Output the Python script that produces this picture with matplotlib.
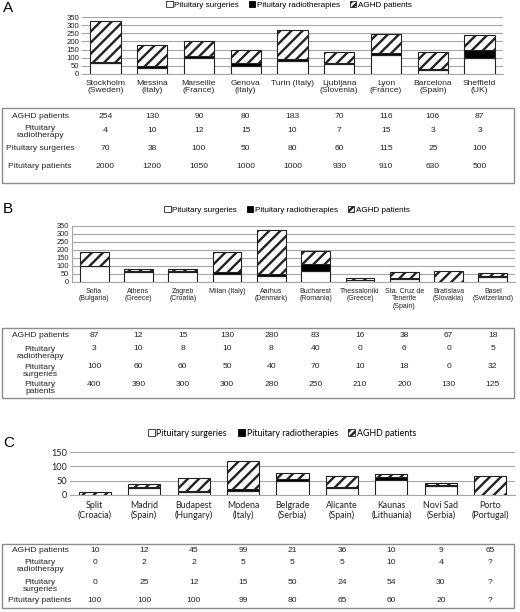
import numpy as np
import matplotlib
matplotlib.use('Agg')
import matplotlib.pyplot as plt
from matplotlib.patches import Patch, Rectangle
from matplotlib import transforms

plt.rcParams['font.family'] = ['Liberation Sans', 'DejaVu Sans']
plt.rcParams['hatch.color'] = 'black'
plt.rcParams['hatch.linewidth'] = 1.7

# ---- panel A ----
cities_a = ['Stockholm\n(Sweden)', 'Messina\n(Italy)', 'Marseille\n(France)', 'Genova\n(Italy)',
            'Turin (Italy)', 'Ljubljana\n(Slovenia)', 'Lyon\n(France)', 'Barcelona\n(Spain)',
            'Sheffield\n(UK)']
aghd_a = [254, 130, 90, 80, 183, 70, 116, 106, 87]
radio_a = [4, 10, 12, 15, 10, 7, 15, 3, 3]
surg_a = [70, 38, 100, 50, 80, 60, 115, 25, 100]
pit_a = [2000, 1200, 1050, 1000, 1000, 930, 910, 630, 500]
# bar for Sheffield shows ~50 radiotherapies although table says 3
radio_bar_a = [4, 10, 12, 15, 10, 7, 15, 3, 50]

# ---- panel B ----
cities_b = ['Sofia\n(Bulgaria)', 'Athens\n(Greece)', 'Zagreb\n(Croatia)', 'Milan (Italy)',
            'Aarhus\n(Denmark)', 'Bucharest\n(Romania)', 'Thessaloniki\n(Greece)',
            'Sta. Cruz de\nTenerife\n(Spain)', 'Bratislava\n(Slovakia)', 'Basel\n(Switzerland)']
aghd_b = [87, 12, 15, 130, 280, 83, 16, 38, 67, 18]
radio_b = [3, 10, 8, 10, 8, 40, 0, 6, 0, 5]
surg_b = [100, 60, 60, 50, 40, 70, 10, 18, 0, 32]
pit_b = [400, 390, 300, 300, 280, 250, 210, 200, 130, 125]

# ---- panel C ----
cities_c = ['Split\n(Croacia)', 'Madrid\n(Spain)', 'Budapest\n(Hungary)', 'Modena\n(Italy)',
            'Belgrade\n(Serbia)', 'Alicante\n(Spain)', 'Kaunas\n(Lithuania)', 'Novi Sad\n(Serbia)',
            'Porto\n(Portugal)']
aghd_c = [10, 12, 45, 99, 21, 36, 10, 9, 65]
radio_c = [0, 2, 2, 5, 5, 5, 10, 4, np.nan]
surg_c = [0, 25, 12, 15, 50, 24, 54, 30, np.nan]
pit_c = [100, 100, 100, 99, 80, 65, 60, 20, np.nan]

legend_labels = ['Pituitary surgeries', 'Pituitary radiotherapies', 'AGHD patients']

W, H = 520, 612
fig = plt.figure(figsize=(W / 100, H / 100), dpi=100)


def fx(px):
    return px / W


def fy(py):
    return 1 - py / H


def bars(rect, cats, surg, radio, aghd, ymax, step, tick_fs, cat_fs, family, left_spine, hatch):
    x0, y0, x1, y1 = rect
    ax = fig.add_axes([fx(x0), fy(y1), fx(x1 - x0), (y1 - y0) / H])
    x = np.arange(len(cats))
    s = np.nan_to_num(np.array(surg, float))
    r = np.nan_to_num(np.array(radio, float))
    a = np.nan_to_num(np.array(aghd, float))
    kw = dict(width=0.65, edgecolor='#222222', linewidth=0.8, zorder=3)
    ax.bar(x, s, color='white', **kw)
    ax.bar(x, r, bottom=s, color='black', **kw)
    ax.bar(x, a, bottom=s + r, color='white', hatch=hatch, **kw)
    ax.set_xlim(-0.5, len(cats) - 0.5)
    ax.set_ylim(0, ymax)
    ax.set_yticks(np.arange(0, ymax + 1, step))
    ax.yaxis.grid(True, color='#a6a6a6', lw=0.8, zorder=0)
    ax.set_xticks(x)
    ax.set_xticklabels(cats, fontsize=cat_fs, family=family, linespacing=1.15)
    for lab in ax.get_yticklabels():
        lab.set_family(family)
    ax.tick_params(axis='both', length=0, labelsize=tick_fs, colors='#222222')
    ax.tick_params(axis='x', labelsize=cat_fs, pad=4)
    ax.tick_params(axis='y', pad=2)
    for sp in ['top', 'right', 'left']:
        ax.spines[sp].set_visible(False)
    ax.spines['bottom'].set_color('#a6a6a6')
    if left_spine:
        ax.spines['left'].set_visible(True)
        ax.spines['left'].set_color('#a6a6a6')
    return ax


def legend(cx, cy, fs, family):
    handles = [Patch(facecolor='white', edgecolor='#222222', lw=0.6),
               Patch(facecolor='black', edgecolor='black', lw=0.6),
               Patch(facecolor='white', edgecolor='#222222', lw=0.6, hatch='/////')]
    fig.legend(handles, legend_labels, loc='center', bbox_to_anchor=(fx(cx), fy(cy)),
               ncol=3, frameon=False, handlelength=0.8, handleheight=0.8,
               handletextpad=0.2, columnspacing=1.2, borderaxespad=0,
               prop={'size': fs, 'family': family})


def table(ax, box, rows, labels, ylab, yval, fs=6.1):
    x0, y0, x1, y1 = box
    fig.patches.append(Rectangle((fx(x0), fy(y1)), fx(x1 - x0), (y1 - y0) / H,
                                 transform=fig.transFigure, fill=False,
                                 edgecolor='#8c8c8c', lw=1.0))
    tr = transforms.blended_transform_factory(ax.transData, fig.transFigure)
    for vals, lab, yl, yv in zip(rows, labels, ylab, yval):
        fig.text(fx(40), fy(yl), lab, ha='center', va='center', fontsize=fs,
                 linespacing=1.1, color='#222222')
        for i, v in enumerate(vals):
            txt = '?' if np.isnan(v) else str(int(v))
            ax.text(i, fy(yv), txt, transform=tr, ha='center', va='center',
                    fontsize=fs, color='#222222')


# Panel A
axa = bars((82, 17, 503, 74), cities_a, surg_a, radio_bar_a, aghd_a, 350, 50,
           5.6, 6.1, 'Liberation Sans', False, '///')
legend(289, 5, 5.9, 'Liberation Sans')
fig.text(fx(3), fy(8), 'A', fontsize=11, va='center', ha='left')
table(axa, (2, 108, 514, 183), [aghd_a, radio_a, surg_a, pit_a],
      ['AGHD patients', 'Pituitary\nradiotherapy', 'Pituitary surgeries', 'Pituitary patients'],
      [116, 132, 149, 167], [116, 130, 149, 167])

# Panel B
axb = bars((72, 226, 515, 282), cities_b, surg_b, radio_b, aghd_b, 350, 50,
           5.4, 5.0, 'Liberation Sans', True, '///')
legend(287, 210, 5.9, 'Liberation Sans')
fig.text(fx(3), fy(209), 'B', fontsize=11, va='center', ha='left')
table(axb, (2, 328, 514, 398), [aghd_b, radio_b, surg_b, pit_b],
      ['AGHD patients', 'Pituitary\nradiotherapy', 'Pituitary\nsurgeries', 'Pituitary\npatients'],
      [335, 353, 371, 388], [335, 349, 367, 384])

# Panel C
axc = bars((70, 452, 515, 495), cities_c, surg_c, radio_c, aghd_c, 150, 50,
           6.6, 6.4, 'Lato', False, '///')
legend(282, 433, 6.4, 'Lato')
fig.text(fx(3), fy(443), 'C', fontsize=11, va='center', ha='left')
table(axc, (2, 544, 514, 608), [aghd_c, radio_c, surg_c, pit_c],
      ['AGHD patients', 'Pituitary\nradiotherapy', 'Pituitary\nsurgeries', 'Pituitary patients'],
      [551, 566, 586, 601], [551, 562, 582, 601])

fig.savefig('out.png', dpi=100)
